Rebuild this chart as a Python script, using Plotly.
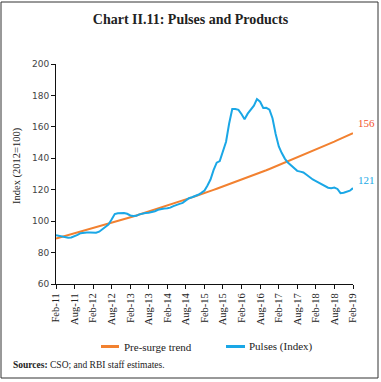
import plotly.graph_objects as go
import pandas as pd

# ---- data ----
months = pd.date_range("2011-02-01", "2019-02-01", freq="MS")

pre_surge_trend = [
    89.0, 89.5, 90.0, 90.6, 91.1, 91.6, 92.2, 92.7, 93.3, 93.8, 94.4, 94.9,
    95.5, 96.1, 96.6, 97.2, 97.8, 98.3, 98.9, 99.5, 100.1, 100.7, 101.2, 101.8,
    102.4, 103.0, 103.6, 104.2, 104.9, 105.5, 106.1, 106.7, 107.3, 107.9, 108.6, 109.2,
    109.8, 110.5, 111.1, 111.8, 112.4, 113.1, 113.8, 114.4, 115.1, 115.8, 116.4, 117.1,
    117.8, 118.5, 119.2, 119.9, 120.6, 121.3, 122.0, 122.7, 123.4, 124.2, 124.9, 125.6,
    126.4, 127.1, 127.9, 128.6, 129.4, 130.1, 130.9, 131.7, 132.4, 133.2, 134.0, 134.8,
    135.6, 136.4, 137.2, 138.0, 138.8, 139.6, 140.4, 141.2, 142.1, 142.9, 143.7, 144.6,
    145.4, 146.3, 147.1, 148.0, 148.9, 149.7, 150.6, 151.5, 152.4, 153.3, 154.2, 155.1,
    156.0,
]

pulses_index = [
    91.0, 90.6, 90.1, 89.7, 89.4, 89.6, 90.2, 91.2, 92.3, 92.8, 92.8, 92.7,
    92.6, 92.6, 93.3, 94.6, 96.3, 97.8, 101.0, 104.5, 105.0, 105.3, 105.2, 104.7,
    103.6, 103.3, 103.4, 104.3, 105.0, 105.2, 105.4, 105.7, 106.3, 107.2, 107.8, 108.0,
    108.2, 108.6, 109.6, 110.5, 111.0, 111.6, 113.2, 114.6, 115.2, 115.9, 116.8, 118.0,
    119.5, 122.5, 126.5, 132.5, 137.2, 138.2, 144.8, 150.5, 162.0, 171.4, 171.4, 170.8,
    168.0, 164.8, 168.4, 170.8, 173.5, 177.7, 176.0, 172.0, 172.1, 171.0, 165.5, 155.5,
    147.5, 143.5, 139.8, 137.3, 135.5, 133.2, 132.0, 131.5, 131.0, 129.5, 127.8, 126.5,
    125.5, 124.5, 123.2, 122.0, 121.3, 121.0, 121.4, 120.5, 117.8, 118.1, 118.7, 119.4,
    121.0,
]

tick_labels = ["Feb-11", "Aug-11", "Feb-12", "Aug-12", "Feb-13", "Aug-13", "Feb-14", "Aug-14",
               "Feb-15", "Aug-15", "Feb-16", "Aug-16", "Feb-17", "Aug-17", "Feb-18", "Aug-18", "Feb-19"]
tick_dates = [pd.to_datetime(t, format="%b-%y") for t in tick_labels]

series_names = ["Pre-surge trend", "Pulses (Index)"]

# ---- style ----
ORANGE = "#F28130"
ORANGE_TXT = "#F2542A"
BLUE = "#1AA7E6"
SERIF = "Liberation Serif, Times New Roman, serif"
SANS = "DejaVu Sans, Verdana, sans-serif"

W, H = 381, 382
ML, MR, MT, MB = 56, 28, 64, 98
PW, PH = W - ML - MR, H - MT - MB


def px_x(px):
    return (px - ML) / PW


def px_y(py):
    return (H - MB - py) / PH


fig = go.Figure()
fig.add_trace(go.Scatter(x=months, y=pre_surge_trend, mode="lines", name=series_names[0],
                         line=dict(color=ORANGE, width=2)))
fig.add_trace(go.Scatter(x=months, y=pulses_index, mode="lines", name=series_names[1],
                         line=dict(color=BLUE, width=2)))

fig.update_layout(
    width=W, height=H,
    margin=dict(l=ML, r=MR, t=MT, b=MB),
    paper_bgcolor="white", plot_bgcolor="white",
    showlegend=False,
    title=dict(text="<b>Chart II.11: Pulses and Products</b>", x=0.5, xanchor="center",
               y=1 - 19 / H, yanchor="middle",
               font=dict(family=SERIF, size=14, color="#222")),
)

fig.update_xaxes(
    range=[months[0], months[-1]],
    tickvals=tick_dates, ticktext=tick_labels, tickangle=-90,
    showgrid=False, zeroline=False,
    showline=True, linecolor="#111", linewidth=1,
    ticks="outside", ticklen=4, tickcolor="#111",
    tickfont=dict(family=SERIF, size=10.5, color="#222"),
)
fig.update_yaxes(
    range=[60, 200], dtick=20, tick0=60,
    showgrid=False, zeroline=False,
    showline=True, linecolor="#111", linewidth=1,
    ticks="outside", ticklen=4, tickcolor="#111",
    tickfont=dict(family=SANS, size=9, color="#444"),
)

annotations = [
    dict(text="Index (2012=100)", textangle=-90, xref="paper", yref="paper",
         x=px_x(17), y=px_y(165), xanchor="center", yanchor="middle", showarrow=False,
         font=dict(family=SERIF, size=10.5, color="#222")),
    dict(text=f"{pre_surge_trend[-1]:.0f}", xref="paper", yref="y", x=px_x(356), y=pre_surge_trend[-1],
         xanchor="left", yanchor="middle", yshift=10, showarrow=False,
         font=dict(family=SERIF, size=11, color=ORANGE_TXT)),
    dict(text=f"{pulses_index[-1]:.0f}", xref="paper", yref="y", x=px_x(356), y=pulses_index[-1],
         xanchor="left", yanchor="middle", yshift=8, showarrow=False,
         font=dict(family=SERIF, size=11, color=BLUE)),
    # legend text
    dict(text=series_names[0], xref="paper", yref="paper", x=px_x(122), y=px_y(346.5),
         xanchor="left", yanchor="middle", showarrow=False,
         font=dict(family=SERIF, size=11, color="#222")),
    dict(text=series_names[1], xref="paper", yref="paper", x=px_x(247), y=px_y(346.5),
         xanchor="left", yanchor="middle", showarrow=False,
         font=dict(family=SERIF, size=11, color="#222")),
    # source
    dict(text="<b>Sources:</b> CSO; and RBI staff estimates.", xref="paper", yref="paper",
         x=px_x(11), y=px_y(364.5), xanchor="left", yanchor="middle", showarrow=False,
         font=dict(family=SERIF, size=9.5, color="#222")),
]

shapes = [
    # legend line samples
    dict(type="line", xref="paper", yref="paper", x0=px_x(101), x1=px_x(119),
         y0=px_y(346.5), y1=px_y(346.5), line=dict(color=ORANGE, width=3)),
    dict(type="line", xref="paper", yref="paper", x0=px_x(226), x1=px_x(245),
         y0=px_y(346.5), y1=px_y(346.5), line=dict(color=BLUE, width=3)),
    # outer frame
    dict(type="rect", xref="paper", yref="paper", x0=px_x(1), x1=px_x(378),
         y0=px_y(378), y1=px_y(2), line=dict(color="#333", width=1), layer="below"),
]

fig.update_layout(annotations=annotations, shapes=shapes)

fig.write_html("out.html",
               config={"displayModeBar": False},
               post_script="document.body.style.margin='0';document.body.style.overflow='hidden';")
